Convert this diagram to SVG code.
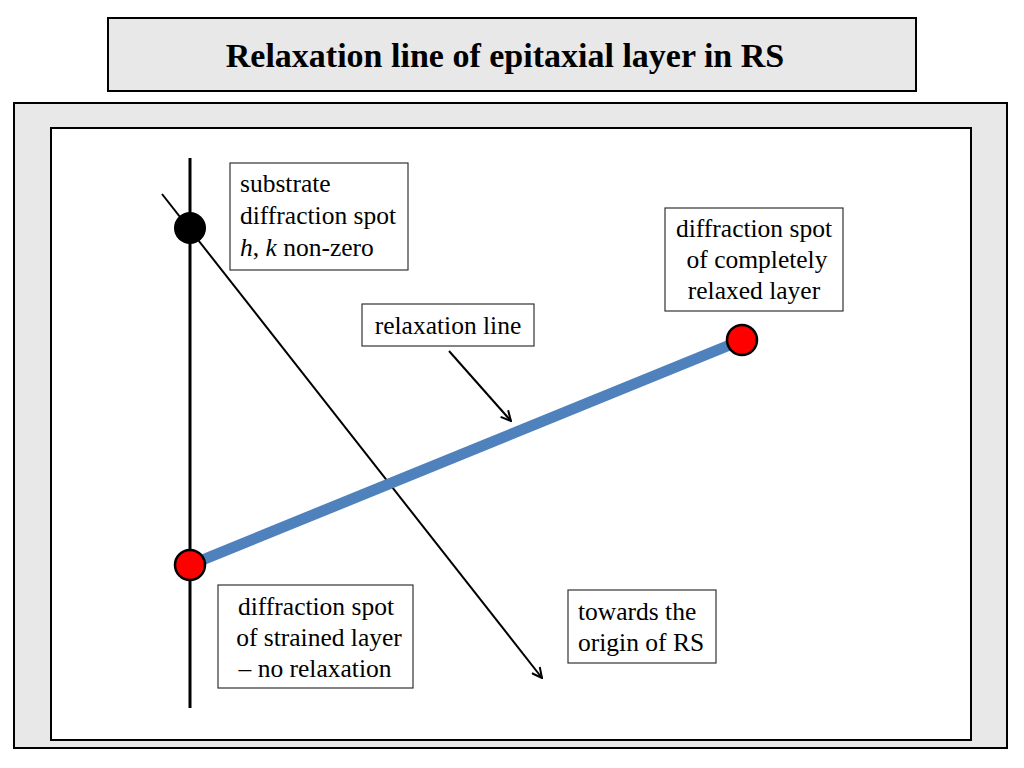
<svg xmlns="http://www.w3.org/2000/svg" width="1024" height="768" viewBox="0 0 1024 768">
<defs>
<marker id="arr" viewBox="0 0 12 12" refX="11" refY="6" markerWidth="12" markerHeight="12" markerUnits="userSpaceOnUse" orient="auto">
<path d="M1,1 L11,6 L1,11" fill="none" stroke="#000" stroke-width="2"/>
</marker>
<style>
.lbl{fill:#fff;stroke:#333;stroke-width:1.2}
.spot{stroke:#000;stroke-width:2.5}
</style>
</defs>
<rect width="1024" height="768" fill="#fff"/>
<g id="title">
<rect x="108" y="18" width="808" height="73" fill="#e8e8e8" stroke="#000" stroke-width="2"/>
<text x="505" y="67" text-anchor="middle" font-family="Liberation Serif, Times New Roman, serif" font-size="34" font-weight="bold">Relaxation line of epitaxial layer in RS</text>
</g>
<g id="panel">
<rect x="14" y="103" width="993" height="645" fill="#e8e8e8" stroke="#000" stroke-width="2"/>
<rect x="51" y="128" width="920" height="612" fill="#fff" stroke="#000" stroke-width="2"/>
</g>
<g id="connectors">
<line x1="190" y1="158" x2="190" y2="708" stroke="#000" stroke-width="3"/>
<line x1="162" y1="194" x2="542" y2="678" stroke="#000" stroke-width="2" marker-end="url(#arr)"/>
<line x1="190" y1="565" x2="742" y2="340" stroke="#4f81bd" stroke-width="11"/>
<line x1="449" y1="351" x2="511" y2="421" stroke="#000" stroke-width="2" marker-end="url(#arr)"/>
</g>
<g id="substrate-spot"><circle cx="190" cy="228" r="16" fill="#000"/></g>
<g id="strained-spot"><circle cx="190" cy="565" r="15" fill="#f00" class="spot"/></g>
<g id="relaxed-spot"><circle cx="742" cy="340" r="15" fill="#f00" class="spot"/></g>
<g font-family="Liberation Serif, Times New Roman, serif" font-size="25.5" fill="#000">
<g id="substrate-label">
<rect class="lbl" x="230" y="163" width="178" height="107"/>
<text x="240" y="192">substrate</text>
<text x="240" y="224">diffraction spot</text>
<text x="240" y="256"><tspan font-style="italic">h</tspan>, <tspan font-style="italic">k</tspan> non-zero</text>
</g>
<g id="relaxed-label">
<rect class="lbl" x="665" y="208" width="178" height="103"/>
<text x="754" y="237" text-anchor="middle">diffraction spot</text>
<text x="757" y="268" text-anchor="middle">of completely</text>
<text x="754" y="299" text-anchor="middle">relaxed layer</text>
</g>
<g id="relaxation-label">
<rect class="lbl" x="362" y="304" width="172" height="42"/>
<text x="448" y="334" text-anchor="middle">relaxation line</text>
</g>
<g id="strained-label">
<rect class="lbl" x="218" y="585" width="195" height="103"/>
<text x="316" y="615" text-anchor="middle">diffraction spot</text>
<text x="319" y="646" text-anchor="middle">of strained layer</text>
<text x="315" y="677" text-anchor="middle">– no relaxation</text>
</g>
<g id="origin-label">
<rect class="lbl" x="568" y="590" width="148" height="73"/>
<text x="578" y="620">towards the</text>
<text x="578" y="651">origin of RS</text>
</g>
</g>
</svg>
